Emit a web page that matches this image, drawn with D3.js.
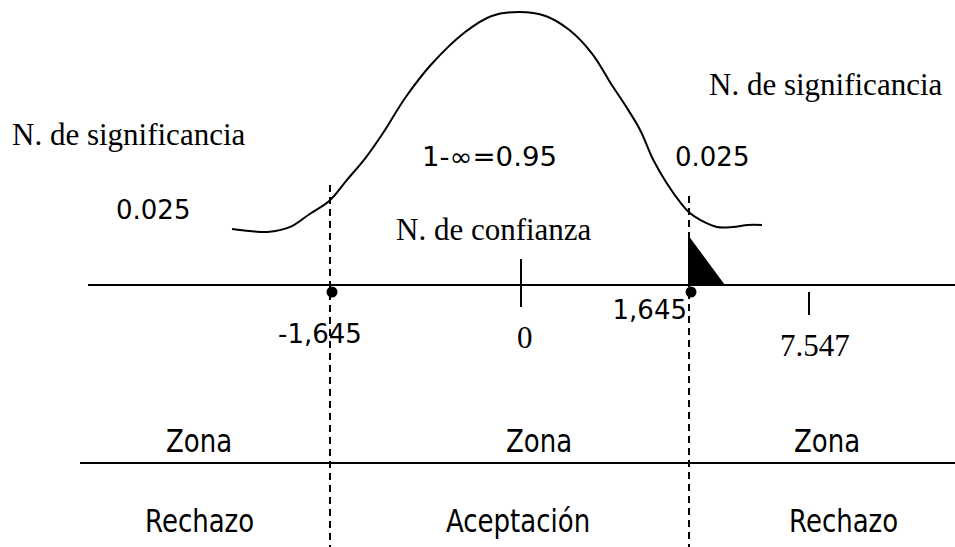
<!DOCTYPE html>
<html>
<head>
<meta charset="utf-8">
<script src="https://cdn.jsdelivr.net/npm/d3@7"></script>
<style>
  body { margin: 0; background: #fff; }
</style>
</head>
<body>
<div id="chart"></div>
<script>
const width = 955;
const height = 547;

// z values on the horizontal axis
const criticalValues = [-1.645, 1.645];
const tickValues = [0, 7.547];
const tailEnd = 3.45;

// hand drawn bell curve: z position and relative height
const curveZ = [-3.00, -2.80, -2.60, -2.34, -2.12, -1.90, -1.70, -1.49, -1.29, -1.04, -0.75, -0.36, -0.06,
  0.25, 0.55, 0.82, 1.08, 1.30, 1.45, 1.62, 1.77, 1.92, 2.09, 2.17, 2.30, 2.49, 2.67, 2.84, 3.00];
const curveH = [0.014, 0.005, 0.0, 0.023, 0.082, 0.141, 0.236, 0.336, 0.45, 0.609, 0.759, 0.909, 0.982,
  1.0, 0.982, 0.918, 0.809, 0.668, 0.577, 0.464, 0.327, 0.223, 0.127, 0.091, 0.055, 0.023, 0.023, 0.032, 0.032];

const zoneTop = ["Zona", "Zona", "Zona"];
const zoneBottom = ["Rechazo", "Aceptación", "Rechazo"];

const serif = "'Liberation Serif', 'Times New Roman', serif";
const sans = "'DejaVu Sans', Verdana, sans-serif";

const svg = d3.select("#chart")
  .append("svg")
  .attr("width", width)
  .attr("height", height);

const x = d3.scaleLinear()
  .domain([-1.645, 0, 1.645, 7.547])
  .range([330, 521, 689, 809]);

const cx = d3.scaleLinear().domain([-3, 3]).range([232, 762]);
const cy = d3.scaleLinear().domain([0, 1]).range([232, 12]);

const axisY = 285;
const zoneY = 463;

// bell curve
const curve = d3.line()
  .x(d => cx(d[0]))
  .y(d => cy(d[1]))
  .curve(d3.curveCatmullRom);

svg.append("path")
  .datum(d3.zip(curveZ, curveH))
  .attr("d", curve)
  .attr("fill", "none")
  .attr("stroke", "#000")
  .attr("stroke-width", 2);

// dashed critical lines
svg.selectAll("line.crit")
  .data(criticalValues)
  .enter()
  .append("line")
  .attr("class", "crit")
  .attr("x1", d => x(d))
  .attr("x2", d => x(d))
  .attr("y1", (d, i) => i === 0 ? 185 : 196)
  .attr("y2", height)
  .attr("stroke", "#000")
  .attr("stroke-width", 2)
  .attr("stroke-dasharray", "7,5");

// horizontal axis
svg.append("line")
  .attr("x1", 88).attr("x2", width)
  .attr("y1", axisY).attr("y2", axisY)
  .attr("stroke", "#000")
  .attr("stroke-width", 2);

// tail wedge
svg.append("path")
  .attr("d", d3.line()([
    [x(criticalValues[1]) - 1, axisY + 1],
    [x(criticalValues[1]) - 1, axisY - 50],
    [x(tailEnd), axisY + 1]
  ]) + "Z")
  .attr("fill", "#000");

// tick marks
svg.append("line")
  .attr("x1", x(tickValues[0])).attr("x2", x(tickValues[0]))
  .attr("y1", 259).attr("y2", 307)
  .attr("stroke", "#000").attr("stroke-width", 2);

svg.append("line")
  .attr("x1", x(tickValues[1])).attr("x2", x(tickValues[1]))
  .attr("y1", 292).attr("y2", 315)
  .attr("stroke", "#000").attr("stroke-width", 2);

// critical points
svg.selectAll("circle")
  .data(criticalValues)
  .enter()
  .append("circle")
  .attr("cx", d => x(d) + 2)
  .attr("cy", axisY + 7)
  .attr("r", 5.5)
  .attr("fill", "#000");

// zone separator
svg.append("line")
  .attr("x1", 80).attr("x2", width)
  .attr("y1", zoneY).attr("y2", zoneY)
  .attr("stroke", "#000")
  .attr("stroke-width", 2);

function label(txt, px, py, font, size, anchor, stretch, len) {
  const t = svg.append("text")
    .attr("transform", `translate(${px},${py}) scale(1,${stretch || 1})`)
    .attr("text-anchor", anchor || "start")
    .style("font-family", font)
    .style("font-size", size + "px")
    .text(txt);
  if (len) t.attr("textLength", len).attr("lengthAdjust", "spacingAndGlyphs");
}

label("N. de significancia", 12, 145, serif, 31);
label("N. de significancia", 709, 95, serif, 31);
label("N. de confianza", 396, 240, serif, 31);
label("0.025", 116, 219, sans, 26);
label("0.025", 675, 166, sans, 26);
label("1-∞=0.95", 422, 166, sans, 26, "start", 1, 135);
label("-1,645", x(-1.645) - 52, 343, sans, 26);
label("0", x(0) - 4, 348, serif, 31);
label("1,645", x(1.645) - 2, 319, sans, 26, "end");
label("7.547", x(7.547) - 29, 356, serif, 31);

const zoneX = [166, 506, 794];
const zoneBX = [145, 446, 789];
zoneTop.forEach((t, i) => label(t, zoneX[i], 452, sans, 26, "start", 1.25));
zoneBottom.forEach((t, i) => label(t, zoneBX[i], 532, sans, 26, "start", 1.25));
</script>
</body>
</html>
